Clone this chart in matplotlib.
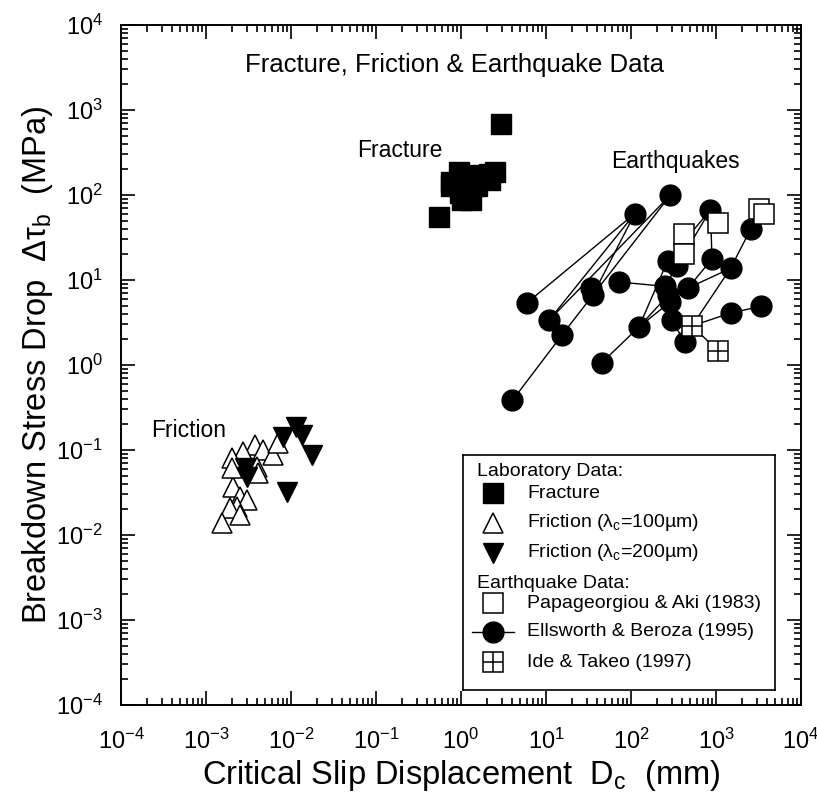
import matplotlib
matplotlib.use('Agg')
import matplotlib.pyplot as plt
from matplotlib.ticker import LogLocator, NullFormatter, LogFormatterSciNotation

plt.rcParams['font.family'] = ['Liberation Sans', 'DejaVu Sans']
plt.rcParams['mathtext.fontset'] = 'custom'
plt.rcParams['mathtext.rm'] = 'Liberation Sans'
plt.rcParams['mathtext.it'] = 'Liberation Sans:italic'
plt.rcParams['mathtext.bf'] = 'Liberation Sans:bold'
plt.rcParams['mathtext.default'] = 'regular'
plt.rcParams['axes.unicode_minus'] = False

# ---------------- data ----------------
fracture_dc = [0.55, 2.96, 0.94, 2.49, 2.12, 0.77, 0.77, 1.03, 1.32, 2.19, 1.17, 1.53, 0.97, 1.8, 1.25]
fracture_tau = [55, 684, 187, 187, 178, 142, 126, 88, 88, 151, 138, 126, 105, 160, 170]

fric100_dc = [0.00377, 0.00272, 0.00202, 0.00469, 0.00614, 0.00703, 0.00208, 0.00251,
              0.00303, 0.00232, 0.00191, 0.00251, 0.00154, 0.00398, 0.00409, 0.00202]
fric100_tau = [0.1146, 0.0946, 0.0805, 0.100, 0.0873, 0.121, 0.0367, 0.028,
               0.0258, 0.0214, 0.0208, 0.0172, 0.0138, 0.063, 0.0536, 0.0614]

fric200_dc = [0.01146, 0.00805, 0.01346, 0.0177, 0.00897, 0.00288, 0.00303]
fric200_tau = [0.187, 0.142, 0.150, 0.0873, 0.032, 0.0614, 0.048]

pa_dc = [3206, 3670, 1057, 416, 416]
pa_tau = [68.4, 59.7, 47.3, 34.5, 20.0]

eb_dc = [291, 111, 861, 2580, 269, 897, 1482, 33.5, 71.8, 251, 469, 288, 5.94,
         10.8, 15.4, 124, 302, 431, 1482, 3360, 45.6, 4.03, 35.7, 348, 276]
eb_tau = [100, 60.5, 67, 40.3, 16.7, 17.7, 13.7, 8.05, 9.47, 8.43, 8.05, 5.5, 5.36,
          3.34, 2.25, 2.8, 3.34, 1.86, 4.09, 4.89, 1.07, 0.384, 6.7, 14.6, 6.7]

it_dc = [522, 1057]
it_tau = [2.88, 1.47]

# connecting lines: (dataset, index, dataset, index)
links = [('eb', 21, 'eb', 14), ('eb', 14, 'eb', 0), ('eb', 13, 'eb', 0), ('eb', 13, 'eb', 1),
         ('eb', 12, 'eb', 1), ('eb', 22, 'eb', 1), ('eb', 8, 'eb', 9), ('eb', 20, 'eb', 15),
         ('eb', 15, 'eb', 4), ('eb', 15, 'eb', 11), ('eb', 15, 'eb', 24), ('eb', 9, 'eb', 2),
         ('eb', 4, 'eb', 2), ('eb', 10, 'eb', 5), ('eb', 5, 'eb', 2), ('eb', 10, 'eb', 6),
         ('eb', 6, 'eb', 3), ('eb', 3, 'pa', 0), ('it', 0, 'eb', 6), ('it', 0, 'eb', 18),
         ('eb', 18, 'eb', 19), ('it', 0, 'it', 1), ('eb', 16, 'it', 0), ('eb', 17, 'eb', 16)]

legend_labels = ['Laboratory Data:', 'Fracture', 'Friction (λ$_c$=100µm)', 'Friction (λ$_c$=200µm)',
                 'Earthquake Data:', 'Papageorgiou & Aki (1983)', 'Ellsworth & Beroza (1995)',
                 'Ide & Takeo (1997)']

title_text = 'Fracture, Friction & Earthquake Data'
xlabel_text = 'Critical Slip Displacement  D$_c$  (mm)'
ylabel_text = 'Breakdown Stress Drop  Δτ$_b$  (MPa)'

# ---------------- figure ----------------
fig = plt.figure(figsize=(8.17, 8.01), dpi=100)
ax = fig.add_axes([121 / 817, 1 - 705 / 801, 680 / 817, 680 / 801])
ax.set_xscale('log')
ax.set_yscale('log')
ax.set_xlim(1e-4, 1e4)
ax.set_ylim(1e-4, 1e4)

data = {'eb': (eb_dc, eb_tau), 'pa': (pa_dc, pa_tau), 'it': (it_dc, it_tau)}
for d1, i1, d2, i2 in links:
    x1, y1 = data[d1][0][i1], data[d1][1][i1]
    x2, y2 = data[d2][0][i2], data[d2][1][i2]
    ax.plot([x1, x2], [y1, y2], color='black', lw=1.0, zorder=2)

ms_sq = 14
ax.plot(fracture_dc, fracture_tau, ls='none', marker='s', ms=ms_sq, mfc='black', mec='black', zorder=3)
ax.plot(fric100_dc, fric100_tau, ls='none', marker='^', ms=15, mfc='white', mec='black', mew=1.1, zorder=3)
ax.plot(fric200_dc, fric200_tau, ls='none', marker='v', ms=15, mfc='black', mec='black', zorder=4)
ax.plot(eb_dc, eb_tau, ls='none', marker='o', ms=15, mfc='black', mec='black', zorder=3)
ax.plot(pa_dc, pa_tau, ls='none', marker='s', ms=ms_sq, mfc='white', mec='black', mew=1.1, zorder=4)
ax.plot(it_dc, it_tau, ls='none', marker='s', ms=ms_sq, mfc='white', mec='black', mew=1.1, zorder=4)
ax.plot(it_dc, it_tau, ls='none', marker='+', ms=ms_sq, mec='black', mew=1.1, zorder=5)

# ticks
for axis in (ax.xaxis, ax.yaxis):
    axis.set_major_locator(LogLocator(base=10, numticks=20))
    axis.set_minor_locator(LogLocator(base=10, subs=range(2, 10), numticks=200))
    axis.set_minor_formatter(NullFormatter())
    axis.set_major_formatter(LogFormatterSciNotation())
ax.tick_params(which='both', direction='in', top=True, right=True, width=1.2, color='black')
ax.tick_params(which='major', length=10, labelsize=17)
ax.tick_params(axis='x', which='major', pad=17)
ax.tick_params(axis='y', which='major', pad=13)
ax.tick_params(which='minor', length=5)
for s in ax.spines.values():
    s.set_linewidth(1.4)

ax.set_xlabel(xlabel_text, fontsize=23.5, labelpad=3)
ax.set_ylabel(ylabel_text, fontsize=23.5)
ax.yaxis.set_label_coords(-0.097, 0.5)

ax.text(0.491, 0.941, title_text, transform=ax.transAxes, ha='center', va='center', fontsize=18.5)
ax.text(0.41, 0.816, 'Fracture', transform=ax.transAxes, ha='center', va='center', fontsize=16.5)
ax.text(0.815, 0.80, 'Earthquakes', transform=ax.transAxes, ha='center', va='center', fontsize=16.5)
ax.text(0.10, 0.404, 'Friction', transform=ax.transAxes, ha='center', va='center', fontsize=16.5)

# legend box (inset)
lg = ax.inset_axes([(463 - 121) / 680, (705 - 690) / 680, (775 - 463) / 680, (690 - 455) / 680])
lg.set_xlim(0, 1)
lg.set_ylim(0, 1)
lg.set_xticks([])
lg.set_yticks([])
for s in lg.spines.values():
    s.set_linewidth(1.2)
row_y = [0.928, 0.838, 0.711, 0.583, 0.455, 0.370, 0.247, 0.119]
mx, tx, hx = 0.096, 0.205, 0.045
styles = [None,
          dict(marker='s', ms=ms_sq, mfc='black', mec='black'),
          dict(marker='^', ms=15, mfc='white', mec='black', mew=1.1),
          dict(marker='v', ms=15, mfc='black', mec='black'),
          None,
          dict(marker='s', ms=ms_sq, mfc='white', mec='black', mew=1.1),
          dict(marker='o', ms=15, mfc='black', mec='black'),
          dict(marker='s', ms=ms_sq, mfc='white', mec='black', mew=1.1)]
for lab, y, st in zip(legend_labels, row_y, styles):
    if st is None:
        lg.text(hx, y, lab, ha='left', va='center', fontsize=14)
    else:
        lg.plot([mx], [y], ls='none', **st)
        lg.text(tx, y, lab, ha='left', va='center', fontsize=14)
lg.plot([0.03, 0.162], [row_y[6], row_y[6]], color='black', lw=1.0)
lg.plot([mx], [row_y[7]], ls='none', marker='+', ms=ms_sq, mec='black', mew=1.1)

fig.savefig('out.png', dpi=100)
